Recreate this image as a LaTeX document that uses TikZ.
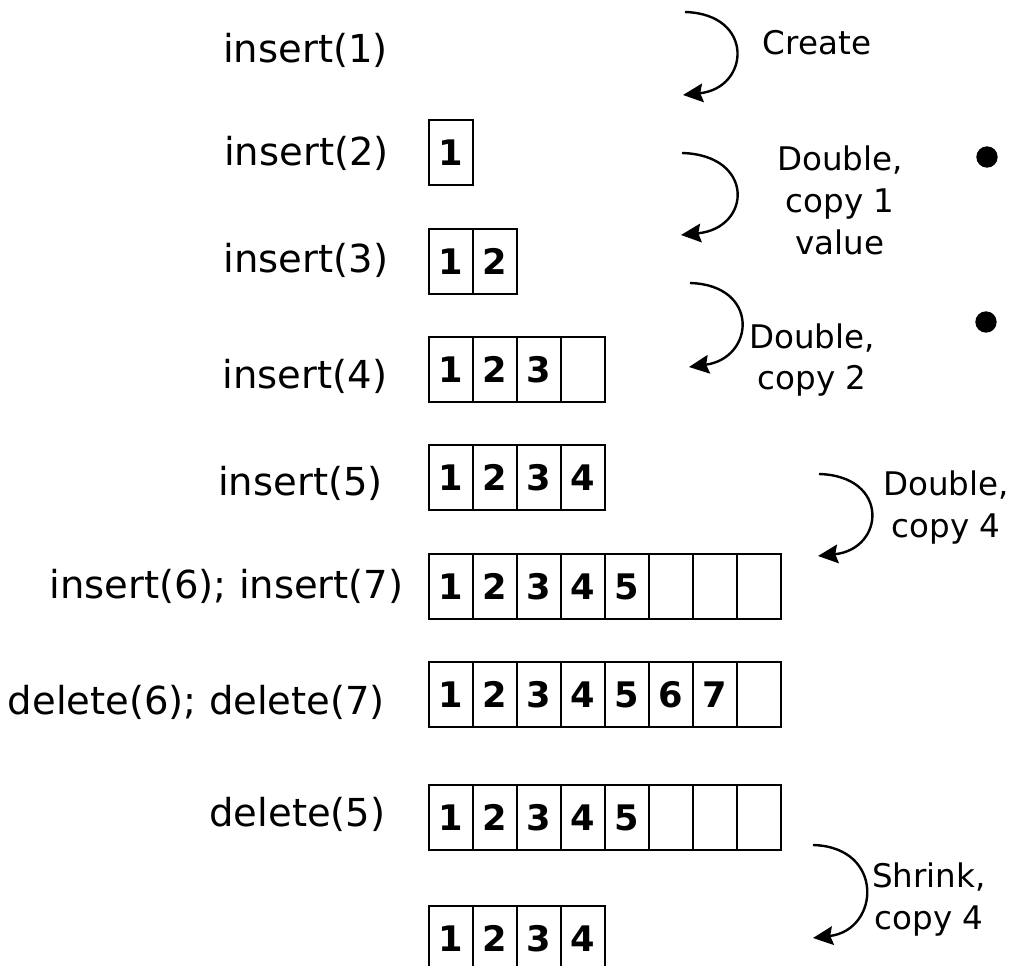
\documentclass[tikz,border=0pt]{standalone}
\usepackage{fontspec}
\setmainfont{DejaVu Sans}
\usetikzlibrary{arrows.meta}
\begin{document}
\begin{tikzpicture}[x=0.75pt,y=-0.75pt,
  lbl/.style={anchor=base, inner sep=0pt, font=\fontsize{28.9pt}{34pt}\selectfont},
  % multi-line notes are placed by the baseline of their last line
  note/.style={anchor=base, align=center, inner sep=0pt, font=\fontsize{24.4pt}{31.5pt}\selectfont},
  cell/.style={draw, line width=1.5pt, minimum width=33pt, minimum height=48.75pt,
    inner sep=0pt, outer sep=0pt, font=\fontsize{26.4pt}{30pt}\selectfont\bfseries},
  flow/.style={line width=1.8pt, -{Stealth[length=15pt,width=14pt,inset=2pt]}},
  dot/.style={circle, fill, inner sep=0pt, minimum size=16pt}]
\useasboundingbox (0,0) rectangle (1011,966);
\clip (0,0) rectangle (1011,966);

% array states: row / centre y / capacity / number of stored values
\foreach \r/\yc/\n/\k in {1/152.5/1/1, 2/261.5/2/2, 3/369.5/4/3, 4/477.5/4/4,
                          5/586.5/8/5, 6/694.5/8/7, 7/817.5/8/5, 8/938.5/4/4}{
  \foreach \i in {1,...,\n}{
    \node[cell] (a\r-\i) at ({407+44*\i},\yc) {\ifnum\i>\k\else\i\fi};
  }
}

% operations
\node[lbl] (op1) at (305.5,63)  {insert(1)};
\node[lbl] (op2) at (306.5,166) {insert(2)};
\node[lbl] (op3) at (306,273)   {insert(3)};
\node[lbl] (op4) at (305,388)   {insert(4)};
\node[lbl] (op5) at (300.5,495) {insert(5)};
\node[lbl] (op6) at (226.5,598) {insert(6); insert(7)};
\node[lbl] (op7) at (196.5,714) {delete(6); delete(7)};
\node[lbl] (op8) at (297.5,826) {delete(5)};

% resize steps
\coordinate (s1) at (685,12);  \coordinate (e1) at (683,95);
\coordinate (s2) at (682,153); \coordinate (e2) at (681,235);
\coordinate (s3) at (690,283); \coordinate (e3) at (689,367);
\coordinate (s4) at (819,474); \coordinate (e4) at (818,556);
\coordinate (s5) at (813,845); \coordinate (e5) at (813,938);

\draw[flow] (s1) .. controls +(70,2) and +(67,-7) .. (e1);
\draw[flow] (s2) .. controls +(73,2) and +(71,-7) .. (e2);
\draw[flow] (s3) .. controls +(70,2) and +(66,-9) .. (e3);
\draw[flow] (s4) .. controls +(71,2) and +(67,-7) .. (e4);
\draw[flow] (s5) .. controls +(72,2) and +(67,-8) .. (e5);

\node[note] (n1) at (817,55)  {Create};
\node[note] (n2) at (840,255) {Double,\\copy 1\\value};
\node[note] (n3) at (812,390) {Double,\\copy 2};
\node[note] (n4) at (946,537) {Double,\\copy 4};
\node[note] (n5) at (929,929) {Shrink,\\copy 4};

\node[dot] (b1) at (987,157) {};
\node[dot] (b2) at (986,322) {};
\end{tikzpicture}
\end{document}
